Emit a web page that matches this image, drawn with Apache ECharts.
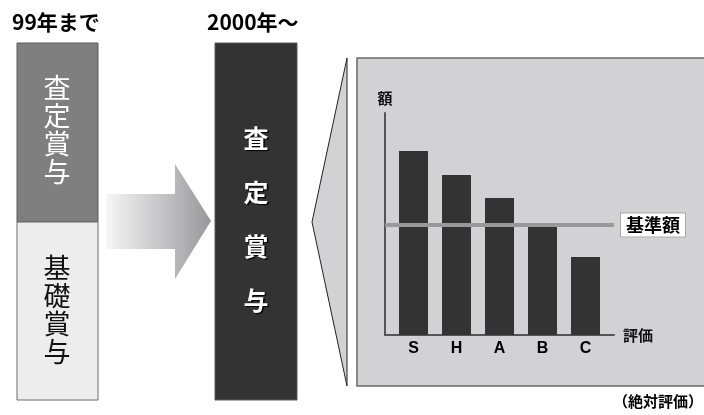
<!DOCTYPE html>
<html>
<head>
<meta charset="utf-8">
<script src="https://cdn.jsdelivr.net/npm/echarts@6/dist/echarts.min.js"></script>
<style>
html,body{margin:0;padding:0;background:#fff;}
#main{width:704px;height:415px;}
</style>
</head>
<body>
<div id="main"></div>
<script>
// ---- data ----
const categories = ['S', 'H', 'A', 'B', 'C'];
const amounts = [184, 160, 137, 110, 78];
const baseAmount = 110;
const baseLabel = '基準額';
const yAxisName = '額';
const xAxisName = '評価';
const leftHeader = '99年まで';
const rightHeader = '2000年～';
const oldTop = ['査', '定', '賞', '与'];
const oldBottom = ['基', '礎', '賞', '与'];
const newCol = ['査', '定', '賞', '与'];
const note = '（絶対評価）';
const yMax = 222;

const CJK = '"Noto Sans CJK JP", "Noto Sans", sans-serif';
const chart = echarts.init(document.getElementById('main'), null, {renderer: 'canvas'});

const option = {
  backgroundColor: '#ffffff',
  animation: false,
  graphic: [
    // headers
    {type: 'text', left: 12, top: 12, z: 1,
     style: {text: leftHeader, font: 'bold 21px ' + CJK, fill: '#000'}},
    {type: 'text', left: 207, top: 12, z: 1,
     style: {text: rightHeader, font: 'bold 21px ' + CJK, fill: '#000'}},
    // old column
    {type: 'rect', shape: {x: 17, y: 43, width: 81, height: 179}, z: 1,
     style: {fill: '#7f7f80', stroke: '#5a5a5a', lineWidth: 1}},
    {type: 'rect', shape: {x: 17, y: 222, width: 81, height: 178}, z: 1,
     style: {fill: '#ededed', stroke: '#6a6a6a', lineWidth: 1}},
    {type: 'text', x: 57, y: 130, z: 2,
     style: {text: oldTop.join('\n'), font: '27px ' + CJK, lineHeight: 28,
             fill: '#fff', align: 'center', verticalAlign: 'middle'}},
    {type: 'text', x: 57, y: 310, z: 2,
     style: {text: oldBottom.join('\n'), font: '27px ' + CJK, lineHeight: 28,
             fill: '#111', align: 'center', verticalAlign: 'middle'}},
    // arrow
    {type: 'polygon', z: 1,
     shape: {points: [[106,194],[175,194],[175,164],[211,221],[175,279],[175,249],[106,249]]},
     style: {fill: new echarts.graphic.LinearGradient(0, 0, 1, 0, [
       {offset: 0, color: '#f6f6f6'}, {offset: 1, color: '#98989b'}])}},
    // new column
    {type: 'rect', shape: {x: 215, y: 43, width: 82, height: 357}, z: 1,
     style: {fill: '#333333', stroke: '#5a5a5a', lineWidth: 1}},
    {type: 'text', x: 256, y: 219, z: 2,
     style: {text: newCol.join('\n'), font: 'bold 25px ' + CJK, lineHeight: 54,
             fill: '#fff', align: 'center', verticalAlign: 'middle',
             textShadowColor: '#000', textShadowBlur: 1, textShadowOffsetX: 1.5, textShadowOffsetY: 1.5}},
    // chevron
    {type: 'polygon', z: 1,
     shape: {points: [[347,58],[312,222],[347,386]]},
     style: {fill: '#d2d2d4', stroke: '#222', lineWidth: 1}},
    // panel
    {type: 'rect', shape: {x: 357, y: 58, width: 400, height: 328}, z: 0,
     style: {fill: '#d2d2d4', stroke: '#6a6a6a', lineWidth: 1.5}},
    // note
    {type: 'text', right: 1, top: 394, z: 1,
     style: {text: note, font: 'bold 15px ' + CJK, fill: '#000'}}
  ],
  grid: [
    {left: 385, top: 113, width: 229, height: 222, containLabel: false},
    {left: 392, top: 113, width: 215, height: 222, containLabel: false}
  ],
  xAxis: [
    {type: 'value', gridIndex: 0, min: 0, max: 1,
     name: xAxisName, nameLocation: 'end', nameGap: 9,
     nameTextStyle: {fontFamily: CJK, fontSize: 15, fontWeight: 'bold', color: '#111', verticalAlign: 'middle'},
     axisLine: {show: true, lineStyle: {color: '#555', width: 2}},
     axisTick: {show: false}, axisLabel: {show: false}, splitLine: {show: false}},
    {type: 'category', gridIndex: 1, data: categories,
     axisLine: {show: false}, axisTick: {show: false},
     axisLabel: {show: true, margin: 6, fontFamily: 'Liberation Sans',
                 fontSize: 16, fontWeight: 'bold', color: '#000'},
     splitLine: {show: false}}
  ],
  yAxis: [
    {type: 'value', gridIndex: 0, min: 0, max: yMax,
     name: yAxisName, nameLocation: 'end', nameGap: 7,
     nameTextStyle: {fontFamily: CJK, fontSize: 15, fontWeight: 'bold', color: '#111', align: 'center'},
     axisLine: {show: true, lineStyle: {color: '#555', width: 2}},
     axisTick: {show: false}, axisLabel: {show: false}, splitLine: {show: false}},
    {type: 'value', gridIndex: 1, min: 0, max: yMax, show: false,
     axisLine: {show: false}, axisTick: {show: false}, axisLabel: {show: false}, splitLine: {show: false}}
  ],
  series: [
    {type: 'bar', xAxisIndex: 1, yAxisIndex: 1, data: amounts, barWidth: 29,
     itemStyle: {color: '#333333'}, z: 2, silent: true},
    {type: 'line', xAxisIndex: 0, yAxisIndex: 0, data: [], z: 5, silent: true,
     markLine: {
       silent: true, symbol: ['none', 'none'],
       lineStyle: {color: '#999999', width: 4, type: 'solid'},
       label: {show: true, position: 'end', distance: 7, formatter: baseLabel,
               fontFamily: CJK, fontSize: 18, fontWeight: 'bold', color: '#000',
               backgroundColor: '#fff', borderColor: '#aaa', borderWidth: 1,
               padding: [3, 5, 2, 5]},
       data: [{yAxis: baseAmount}]
     }}
  ]
};
chart.setOption(option);
</script>
</body>
</html>
